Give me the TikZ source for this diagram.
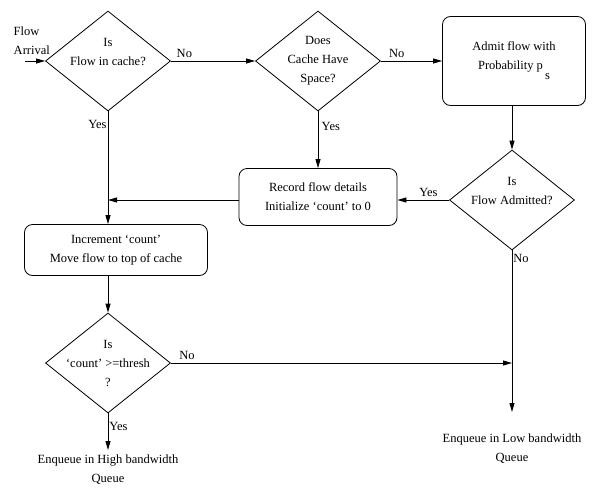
\documentclass[tikz,border=0pt]{standalone}
\usepackage{fontspec}
\setmainfont{Liberation Serif}
\usepackage{tikz}
\usetikzlibrary{arrows.meta,shapes.geometric}

\tikzset{
  every node/.style={font=\fontsize{12.5}{19}\selectfont, align=center},
  decision/.style={diamond, draw, aspect=1.25, minimum width=125pt, minimum height=100pt, inner sep=-8pt},
  process/.style={rectangle, draw, rounded corners=8pt}
}

\begin{document}
\begin{tikzpicture}[x=1pt,y=-1pt,line width=0.8pt,>={Triangle[length=9pt,width=5pt]}]
\useasboundingbox (0,0) rectangle (592,488);
\node[anchor=west,align=left] (arrival) at (10,41) {Flow\\Arrival};
\coordinate (in) at (25,61);
\node[decision] (d1) at (108,61) {Is\\Flow in cache?\\\mbox{}};
\node[decision] (d2) at (318,61) {Does\\Cache Have\\Space?};
\node[process, minimum width=143pt, minimum height=89pt] (b1) at (514,61) {Admit flow with\\Probability p\raisebox{-10pt}{\,s}};
\node[decision] (d3) at (512,200) {Is\\Flow Admitted?\\\mbox{}};
\node[process, minimum width=158pt, minimum height=57pt] (b2) at (318,197) {Record flow details\\Initialize `count' to 0};
\node[process, minimum width=183pt, minimum height=51pt] (b3) at (116,250) {Increment `count'\\Move flow to top of cache};
\node[decision] (d4) at (108,363) {Is\\`count' >=thresh\\?};
\coordinate (k) at (512,363);
\coordinate (e) at (512,412);
\coordinate (f) at (108,450);
\node (lowq) at (512,449) {Enqueue in Low bandwidth\\Queue};
\node (highq) at (108,470) {Enqueue in High bandwidth\\Queue};

\path[->]
  (in) edge (d1.west)
  (d1.east) edge node[above,pos=0.16] (no1) {No} (d2.west)
  (d2.east) edge node[above,pos=0.26] (no2) {No} (b1.west)
  (d3.north |- b1.south) edge (d3.north)
  (d2.south) edge node[right,pos=0.27] (yes2) {Yes} (b2.north)
  (d3.west) edge node[above,pos=0.4] (yes3) {Yes} (d3.west -| b2.east)
  (b2.west |- d3.west) edge (d3.west -| d1.south)
  (d1.south |- b3.south) edge (d4.north)
  (d4.east) edge node[above,pos=0.047] (no4) {No} (k)
  (d3.south) edge node[right,pos=0.05,inner sep=1pt] (no3) {No} (e)
  (d4.south) edge node[right,pos=0.36,inner sep=1pt] (yes4) {Yes} (f);
\draw[->] (d1.south) -- node[left,pos=0.12,inner sep=1pt] (yes1) {Yes} (d1.south |- b3.north);
\end{tikzpicture}
\end{document}
